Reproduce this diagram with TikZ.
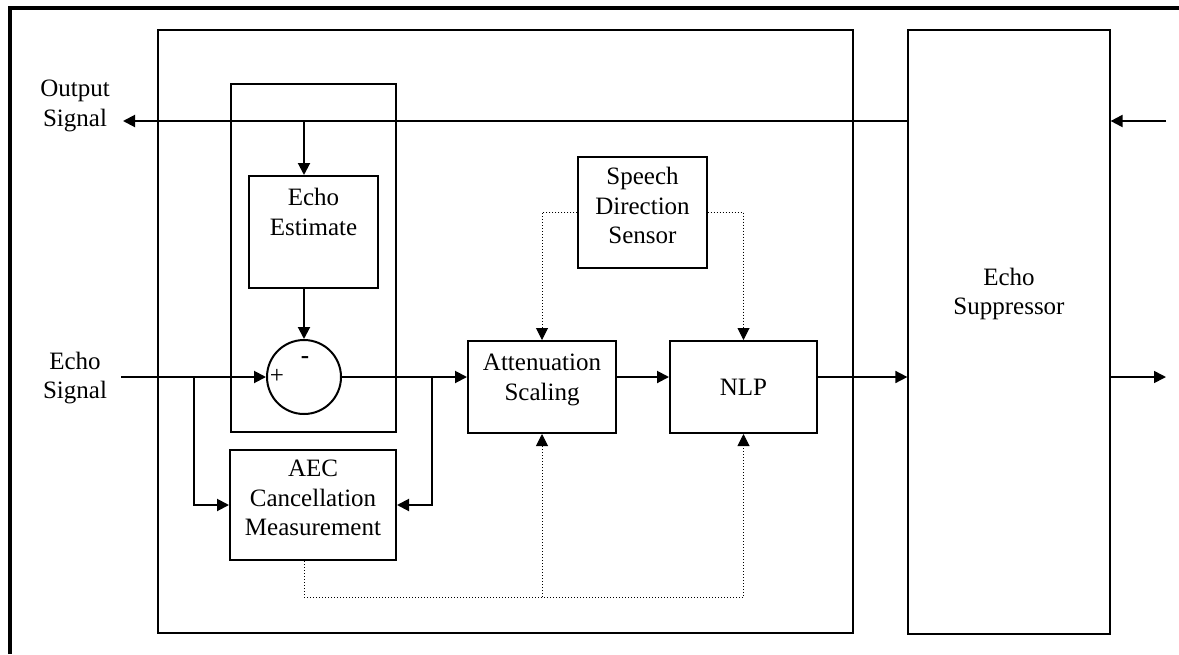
\documentclass[tikz,border=0pt]{standalone}
\usepackage{fontspec}
\setmainfont{Liberation Serif}
\usetikzlibrary{arrows.meta, positioning}

\begin{document}
\begin{tikzpicture}[
    x=0.5pt, y=-0.5pt,
    box/.style={
        rectangle, draw, line width=1pt, align=center, inner sep=2pt
    },
    boxtext/.style={align=center, yshift=3.5pt},
    panel/.style={rectangle, draw, line width=1pt},
    sense/.style={densely dotted, line width=0.5pt},
    >={Triangle[length=6pt, width=6pt]},
    every node/.style={font=\fontsize{12.5}{14.8}\selectfont}
]
\useasboundingbox (0,0) rectangle (1179,654);

% page frame
\draw[line width=2.25pt] (10,654) -- (10,8) -- (1179,8);

\node[panel, minimum width=347.5pt, minimum height=301.5pt] (core) at (505.5,331.5) {};
\node[panel, minimum width=82.5pt, minimum height=174pt] (estcase) at (313.5,258) {};

\node[box, minimum width=64.5pt, minimum height=56pt,
      label={[align=center, anchor=north, yshift=-3pt]north:{Echo\\Estimate}}] (est) at (313.5,232) {};
\node[circle, draw, line width=1pt, minimum size=37pt] (sum) at (304,377) {};
\node (plus) at (277,376) {+};
\node (minus) at (305,360) {\textbf{-}};
\node[box, minimum width=83pt, minimum height=55pt,
      label={[boxtext]center:{AEC\\Cancellation\\Measurement}}] (aec) at (313,505) {};
\node[box, minimum width=74pt, minimum height=46pt,
      label={[boxtext]center:{Attenuation\\Scaling}}] (atten) at (542,387) {};
\node[box, minimum width=73.5pt, minimum height=46pt] (nlp) at (743.5,387) {NLP};
\node[box, line width=0.6pt, minimum width=64.5pt, minimum height=55.5pt,
      label={[boxtext]center:{Speech\\Direction\\Sensor}}] (sds) at (642.5,212.5) {};
\node[box, line width=0.6pt, minimum width=101pt, minimum height=302pt,
      label={[align=center, yshift=19pt]center:{Echo\\Suppressor}}] (esup) at (1009,332) {};

\node[align=center] (outlbl) at (75,106) {Output\\Signal};
\node[align=center] (inlbl) at (75,378) {Echo\\Signal};

\coordinate (outtip) at (123,121);
\coordinate (tap) at (304,121);
\coordinate (insig) at (121,377);
\coordinate (j1) at (194,377);
\coordinate (j2) at (432,377);
\coordinate (inR) at (1166,121);
\coordinate (outR) at (1166,377);
\coordinate (bus) at (304,597);

\draw[line width=1pt, ->] (esup.west |- outtip) -- (outtip);
\draw[line width=1pt, ->] (tap) -- (est.north -| tap);
\draw[line width=1pt, ->] (est.south -| tap) -- (sum);
\draw[line width=1pt, ->] (inR) -- (esup.east |- inR);

\draw[line width=1pt, ->] (insig) -- (sum.west);
\draw[line width=1pt, ->] (j1) |- (aec.west);
\draw[line width=1pt, ->] (sum.east) -- (atten.west |- sum);
\draw[line width=1pt, ->] (j2) |- (aec.east);
\draw[line width=1pt, ->] (atten.east |- sum) -- (nlp.west |- sum);
\draw[line width=0.8pt, ->] (nlp.east |- sum) -- (esup.west |- sum);
\draw[line width=0.8pt, ->] (esup.east |- outR) -- (outR);

\draw[sense, ->] (sds.west) -| (atten.north);
\draw[sense, ->] (sds.east) -| (nlp.north);
\draw[sense, ->] (aec.south -| bus) -- (bus) -| (nlp.south);
\draw[sense, ->] (atten.south |- bus) -- (atten.south);

\end{tikzpicture}
\end{document}
